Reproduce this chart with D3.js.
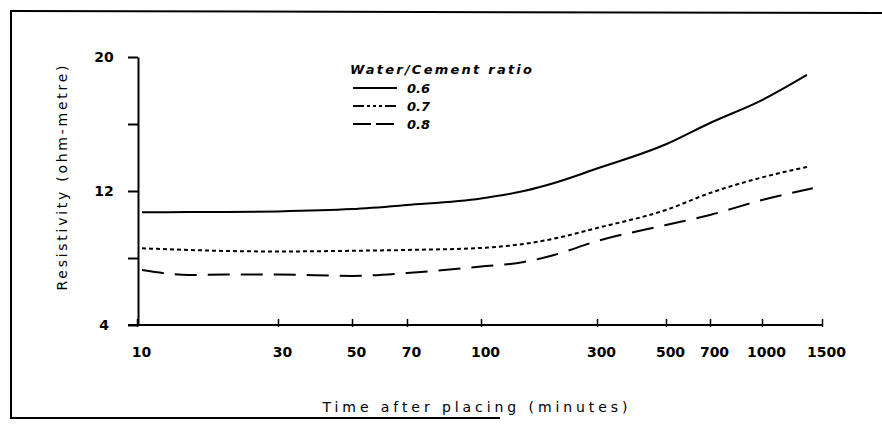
<!DOCTYPE html>
<html>
<head>
<meta charset="utf-8">
<script src="https://cdn.jsdelivr.net/npm/d3@7"></script>
<style>
  html, body { margin: 0; padding: 0; background: #fff; }
  svg { display: block; }
  text { font-family: "DejaVu Sans", sans-serif; fill: #000; }
</style>
</head>
<body>
<svg id="chart" width="882" height="435"></svg>
<script>
// ---- data ----
const times = [10.4, 15, 20, 30, 50, 70, 100, 150, 200, 300, 500, 700, 1000];
const endTimes = [1355, 1365, 1410];
const ratioLabels = ["0.6", "0.7", "0.8"];
const values06 = [10.73, 10.74, 10.75, 10.78, 10.92, 11.16, 11.55, 12.0, 12.48, 13.34, 14.79, 16.06, 17.43, 18.93];
const values07 = [8.58, 8.48, 8.42, 8.39, 8.43, 8.48, 8.60, 8.84, 9.16, 9.79, 10.87, 11.88, 12.81, 13.45];
const values08 = [7.28, 6.99, 7.01, 7.01, 6.93, 7.10, 7.49, 7.76, 8.18, 9.01, 9.97, 10.57, 11.46, 12.16];
const xTicks = [10, 30, 50, 70, 100, 300, 500, 700, 1000, 1500];
const yTicks = [4, 8, 12, 16, 20];
const yLabeled = [4, 12, 20];
const legendTitle = "Water/Cement ratio";
const xTitle = "Time after placing (minutes)";
const yTitle = "Resistivity (ohm-metre)";

// ---- layout ----
const svg = d3.select("#chart");
// the printed time axis is an irregular (hand-drawn) log axis: piecewise log scale
const xStops = [137, 278, 352, 407, 481, 597, 666, 710, 762, 822];
const x = d3.scaleLog().domain(xTicks).range(xStops);
const y = d3.scaleLinear().domain([4, 20]).range([325, 57]);

// frame
const frame = svg.append("g").attr("stroke", "#000").attr("stroke-width", 2).attr("fill", "none");
frame.append("line").attr("x1", 11).attr("y1", 10).attr("x2", 11).attr("y2", 418);
frame.append("line").attr("x1", 10).attr("y1", 11).attr("x2", 882).attr("y2", 13);
frame.append("line").attr("x1", 10).attr("y1", 418).attr("x2", 500).attr("y2", 418);

// x axis
const xAxis = svg.append("g").attr("transform", `translate(0,${y(4)})`)
  .call(d3.axisBottom(x).tickValues(xTicks).tickFormat(d3.format("d"))
        .tickSizeInner(-6).tickSizeOuter(0).tickPadding(22));
xAxis.select(".domain").attr("d", `M128,0H${x(1500)}`).attr("stroke-width", 2);
xAxis.selectAll(".tick line").attr("stroke-width", 1.5).attr("y2", -6).attr("y1", 2);
xAxis.selectAll(".tick text").attr("font-size", 14).attr("font-weight", "bold")
  .attr("font-family", "DejaVu Sans").attr("dx", 4);

// y axis
const yAxis = svg.append("g").attr("transform", `translate(${x(10) + 1},0)`)
  .call(d3.axisLeft(y).tickValues(yTicks)
        .tickFormat(d => yLabeled.includes(d) ? d : "")
        .tickSizeInner(10).tickSizeOuter(0));
yAxis.select(".domain").attr("stroke-width", 2);
yAxis.selectAll(".tick line").attr("stroke-width", 2);
yAxis.selectAll(".tick text").attr("font-size", 14).attr("font-weight", "bold")
  .attr("font-family", "DejaVu Sans").attr("text-anchor", "middle").attr("x", -34);

// axis titles
svg.append("text").attr("x", 475).attr("y", 412).attr("text-anchor", "middle")
  .attr("font-size", 14).attr("textLength", 305).attr("lengthAdjust", "spacing").text(xTitle);
svg.append("text").attr("transform", "translate(67,178) rotate(-90)").attr("text-anchor", "middle")
  .attr("font-size", 14).attr("textLength", 225).attr("lengthAdjust", "spacing").text(yTitle);

// series
const series = [
  { label: ratioLabels[0], vals: values06, end: endTimes[0], dash: null, legendDash: null },
  { label: ratioLabels[1], vals: values07, end: endTimes[1], dash: "4,3", legendDash: "11,3,3,3,3,3,3,3" },
  { label: ratioLabels[2], vals: values08, end: endTimes[2], dash: "22,11", legendDash: "18,5" }
];
const line = d3.line().x(d => x(d[0])).y(d => y(d[1])).curve(d3.curveMonotoneX);
series.forEach(s => {
  const pts = times.concat([s.end]).map((t, i) => [t, s.vals[i]]);
  svg.append("path").datum(pts).attr("d", line)
    .attr("fill", "none").attr("stroke", "#000").attr("stroke-width", 2)
    .attr("stroke-dasharray", s.dash);
});

// legend
const lg = svg.append("g");
lg.append("text").attr("x", 350).attr("y", 74).attr("font-size", 13)
  .attr("font-style", "italic").attr("font-weight", "bold")
  .attr("textLength", 182).attr("lengthAdjust", "spacing").text(legendTitle);
series.forEach((s, i) => {
  const yy = 88 + i * 18;
  lg.append("line").attr("x1", 353).attr("x2", 397).attr("y1", yy).attr("y2", yy)
    .attr("stroke", "#000").attr("stroke-width", 2).attr("stroke-dasharray", s.legendDash);
  lg.append("text").attr("x", 407).attr("y", yy + 5).attr("font-size", 13)
    .attr("font-style", "italic").attr("font-weight", "bold").text(s.label);
});
</script>
</body>
</html>
